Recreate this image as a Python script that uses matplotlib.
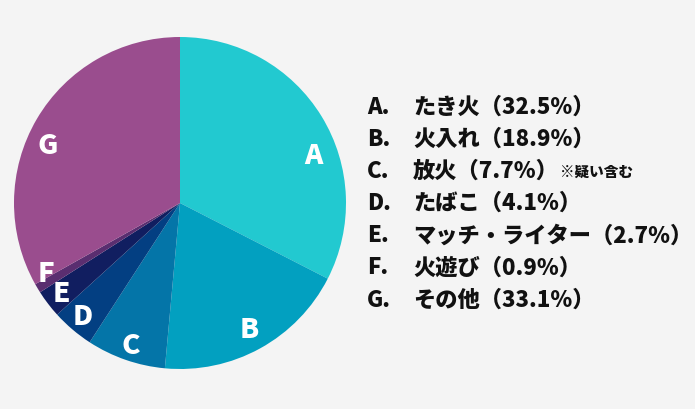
import matplotlib
matplotlib.use("Agg")
import matplotlib.pyplot as plt
import numpy as np

letters = ["A", "B", "C", "D", "E", "F", "G"]
names = ["たき火", "火入れ", "放火", "たばこ", "マッチ・ライター", "火遊び", "その他"]
values = [32.5, 18.9, 7.7, 4.1, 2.7, 0.9, 33.1]
notes = ["", "", "※疑い含む", "", "", "", ""]
colors = ["#22C9D0", "#02A0C0", "#0475A8", "#033F82", "#111E60", "#5A2E70", "#9A4D8E"]
label_dist = [0.85, 0.87, 0.91, 0.90, 0.90, 0.91, 0.87]
label_angle_shift = [-12, 0, 0, 0, 0, -3, 7]

plt.rcParams['font.family'] = ['Noto Sans CJK JP', 'DejaVu Sans']

W, H = 695, 409
fig = plt.figure(figsize=(W / 100, H / 100), dpi=100)
fig.patch.set_facecolor("#F4F4F4")

cx, cy, r = 180, 203, 166
ax = fig.add_axes([(cx - r) / W, (H - cy - r) / H, 2 * r / W, 2 * r / H])
ax.set_facecolor("none")
wedges, _ = ax.pie(values, colors=colors, startangle=90, counterclock=False,
                   radius=1, wedgeprops=dict(linewidth=0))
ax.set_xlim(-1, 1)
ax.set_ylim(-1, 1)
ax.set_aspect("equal")
ax.axis("off")

for w, lt, d, sh in zip(wedges, letters, label_dist, label_angle_shift):
    ang = np.deg2rad((w.theta1 + w.theta2) / 2 + sh)
    ax.text(d * np.cos(ang), d * np.sin(ang), lt, color="white", fontsize=20,
            fontweight="black", ha="center", va="center")

y0, dy = 107, 32.2
for i, (lt, nm, v, nt) in enumerate(zip(letters, names, values, notes)):
    y = 1 - (y0 + i * dy) / H
    fig.text(367 / W, y, lt + ".", fontsize=16, fontweight="black",
             ha="left", va="center", color="#111111")
    t = fig.text(413 / W, y, f"{nm}（{v}%）", fontsize=16, fontweight="black",
                 ha="left", va="center", color="#111111")
    if nt:
        fig.canvas.draw()
        bb = t.get_window_extent()
        fig.text((bb.x1 + 1) / W, y - 1 / H, nt, fontsize=10.5, fontweight="black",
                 ha="left", va="center", color="#111111")

fig.savefig("out.png", dpi=100, facecolor=fig.get_facecolor())
